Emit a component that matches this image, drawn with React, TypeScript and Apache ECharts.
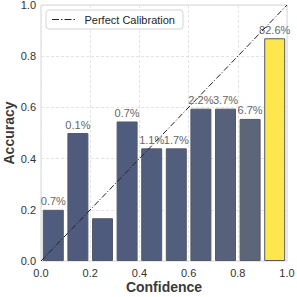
import React, { useEffect, useRef } from "react";
import * as echarts from "echarts";

const binCenters = [0.05, 0.15, 0.25, 0.35, 0.45, 0.55, 0.65, 0.75, 0.85, 0.95];
const accuracy = [0.2, 0.5, 0.167, 0.545, 0.44, 0.44, 0.595, 0.595, 0.555, 0.87];
const sampleShare = [0.7, 0.1, 0.0, 0.7, 1.1, 1.7, 2.2, 3.7, 6.7, 82.6];
const shareLabels = ["0.7%", "0.1%", "", "0.7%", "1.1%", "1.7%", "2.2%", "3.7%", "6.7%", "82.6%"];
const diagonal = [[0, 0], [1, 1]];
const tickFormat = (v: number) => v.toFixed(1);

const lowColor = [0x4f, 0x5b, 0x7d];
const highColor = [0xfd, 0xe7, 0x4c];
function shareColor(share: number, maxShare: number) {
  const t = share / maxShare;
  const c = lowColor.map((l, i) => Math.round(l + t * (highColor[i] - l)));
  return `rgb(${c[0]},${c[1]},${c[2]})`;
}

const dashDotIcon =
  "path://M0,0h7v1.2h-7z M9,0h1.5v1.2h-1.5z M12.5,0h7v1.2h-7z M21.5,0h1.5v1.2h-1.5z";

export default function App() {
  const ref = useRef<HTMLDivElement>(null);
  useEffect(() => {
    if (!ref.current) return;
    const chart = echarts.init(ref.current, undefined, { renderer: "svg" });
    const maxShare = Math.max(...sampleShare);
    const font = "'Liberation Sans', Arial, sans-serif";
    chart.setOption({
      animation: false,
      backgroundColor: "#ffffff",
      textStyle: { fontFamily: font },
      grid: {
        left: 41,
        top: 5,
        right: 10,
        bottom: 36,
        outerBoundsMode: "none",
        containLabel: false,
        show: true,
        borderColor: "#d6d6d6",
        borderWidth: 1,
      },
      legend: {
        data: [{ name: "Perfect Calibration", icon: dashDotIcon }],
        left: 46,
        top: 10,
        padding: [4, 8, 4, 6],
        itemWidth: 24,
        itemHeight: 1.2,
        itemGap: 8,
        itemStyle: { color: "#222222" },
        backgroundColor: "#ffffff",
        borderColor: "#d4d4d4",
        borderWidth: 1,
        borderRadius: 3,
        textStyle: { fontSize: 11, color: "#262626", fontFamily: font, padding: [0, 0, 0, 4] },
      },
      xAxis: {
        type: "value",
        min: 0,
        max: 1,
        interval: 0.2,
        name: "Confidence",
        nameLocation: "middle",
        nameGap: 19,
        nameMoveOverlap: false,
        nameTextStyle: { fontSize: 14, fontWeight: "bold", color: "#3a3a3a", fontFamily: font },
        axisLine: { show: false },
        axisTick: { show: false },
        axisLabel: { formatter: tickFormat, fontSize: 11, color: "#333333", margin: 6 },
        splitLine: { show: true, lineStyle: { color: "#e4e4e4", type: [3, 2], width: 1 } },
      },
      yAxis: {
        type: "value",
        min: 0,
        max: 1,
        interval: 0.2,
        name: "Accuracy",
        nameLocation: "middle",
        nameGap: 25,
        nameMoveOverlap: false,
        nameTextStyle: { fontSize: 14, fontWeight: "bold", color: "#3a3a3a", fontFamily: font },
        axisLine: { show: false },
        axisTick: { show: false },
        axisLabel: { formatter: tickFormat, fontSize: 11, color: "#333333", margin: 5 },
        splitLine: { show: true, lineStyle: { color: "#e4e4e4", type: [3, 2], width: 1 } },
      },
      series: [
        {
          type: "bar",
          barWidth: 21,
          data: binCenters.map((c, i) => ({
            value: [c, accuracy[i]],
            itemStyle: {
              color: shareColor(sampleShare[i], maxShare),
              borderColor: "#555a66",
              borderWidth: 1,
            },
            label: {
              show: true,
              position: "top",
              distance: 3,
              formatter: shareLabels[i],
              fontSize: 11,
              color: "#666666",
            },
          })),
          z: 2,
        },
        {
          type: "line",
          name: "Perfect Calibration",
          data: diagonal,
          symbol: "none",
          lineStyle: { color: "#222222", width: 1, type: [6, 2, 1, 2] },
          itemStyle: { color: "#222222" },
          z: 3,
        },
      ],
    });
    return () => chart.dispose();
  }, []);
  return (
    <div
      ref={ref}
      style={{ position: "fixed", left: 0, top: 0, width: 297, height: 297 }}
    />
  );
}
